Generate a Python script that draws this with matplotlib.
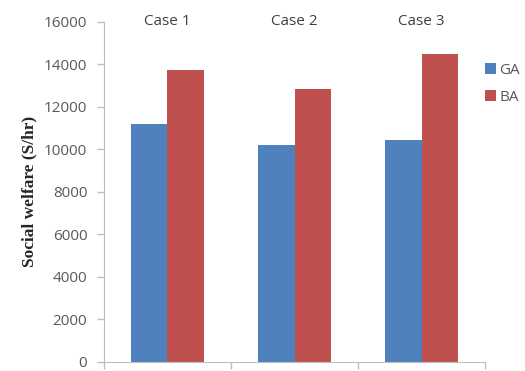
import matplotlib
matplotlib.use("Agg")
import matplotlib.pyplot as plt
import numpy as np

cases = ["Case 1", "Case 2", "Case 3"]
series_names = ["GA", "BA"]
ga_values = [11200, 10200, 10450]
ba_values = [13750, 12850, 14500]
y_ticks = [0, 2000, 4000, 6000, 8000, 10000, 12000, 14000, 16000]

colors = {"GA": "#4F81BD", "BA": "#C0504D"}
tick_color = "#595959"
axis_color = "#BFBFBF"

fig = plt.figure(figsize=(5.25, 3.71), dpi=100)
ax = fig.add_axes([0.198, 0.025, 0.726, 0.916])

x = np.arange(len(cases))
w = 0.29
ax.bar(x - w / 2, ga_values, width=w, color=colors["GA"], label="GA")
ax.bar(x + w / 2, ba_values, width=w, color=colors["BA"], label="BA")

ax.set_xlim(-0.5, len(cases) - 0.5)
ax.set_ylim(0, 16000)
ax.set_yticks(y_ticks)
ax.set_yticklabels([str(v) for v in y_ticks])

# category boundaries as tick marks on the bottom axis
ax.set_xticks(np.arange(len(cases) + 1) - 0.5)
ax.set_xticklabels([])
ax.tick_params(axis="x", direction="out", length=5, color=axis_color, width=1)
ax.tick_params(axis="y", direction="out", length=5, color=axis_color, width=1,
               labelcolor=tick_color, labelsize=11, pad=7)
for lbl in ax.get_yticklabels():
    lbl.set_fontfamily("Open Sans")

# category names across the top
for xi, name in zip(x, cases):
    ax.text(xi, 16000, name, ha="center", va="center", fontsize=11,
            color="#404040", family="Open Sans")

for side in ["top", "right"]:
    ax.spines[side].set_visible(False)
for side in ["left", "bottom"]:
    ax.spines[side].set_color(axis_color)

ax.set_ylabel("Social welfare (S/hr)", fontsize=12.5, fontweight="bold",
              family="Liberation Serif", color="#262626", labelpad=5)

leg = ax.legend(loc="upper left", bbox_to_anchor=(1.0, 0.88), frameon=False,
                fontsize=11, handlelength=0.7, handleheight=0.7,
                handletextpad=0.25, labelspacing=0.8, borderaxespad=0,
                borderpad=0)
for t in leg.get_texts():
    t.set_color(tick_color)
    t.set_fontfamily("Open Sans")

fig.savefig("out.png", dpi=100)
